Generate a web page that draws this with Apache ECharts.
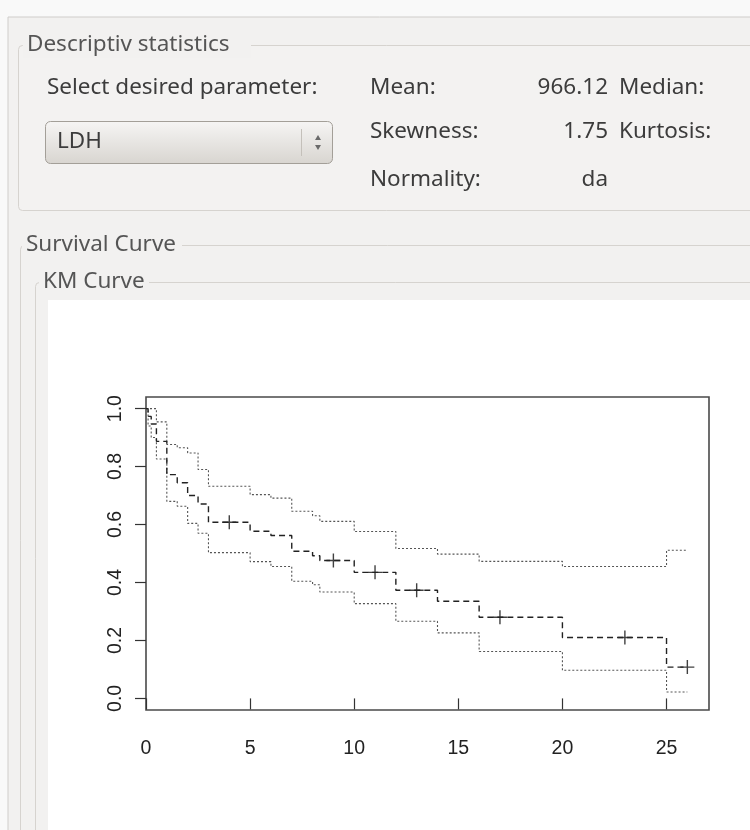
<!DOCTYPE html>
<html><head><meta charset="utf-8">
<script src="https://cdn.jsdelivr.net/npm/echarts@6/dist/echarts.min.js"></script>
<style>html,body{margin:0;padding:0;background:#f9f9f9}#c{width:750px;height:830px}</style>
</head><body><div id="c"></div>
<script>
// ---- data ----
const times    = [0, 0.1, 0.25, 0.5, 1, 1.5, 2, 2.5, 3, 5, 6, 7, 8, 8.35, 10, 12, 14, 16, 20, 25, 26];
const survival = [1.0, 0.973, 0.947, 0.887, 0.772, 0.744, 0.700, 0.671, 0.608, 0.577, 0.562, 0.508, 0.492, 0.476, 0.435, 0.373, 0.335, 0.280, 0.210, 0.108, 0.108];
const upperCI  = [1.0, 1.0, 1.0, 0.954, 0.876, 0.865, 0.847, 0.790, 0.732, 0.703, 0.691, 0.646, 0.630, 0.611, 0.576, 0.517, 0.498, 0.473, 0.455, 0.511, 0.511];
const lowerCI  = [1.0, 0.940, 0.900, 0.826, 0.680, 0.663, 0.604, 0.570, 0.503, 0.472, 0.455, 0.404, 0.392, 0.367, 0.327, 0.266, 0.226, 0.162, 0.097, 0.022, 0.022];
const censorTimes = [4, 9, 11, 13, 17, 23, 26];
const censorSurv  = [0.608, 0.476, 0.435, 0.373, 0.280, 0.210, 0.108];
const xTicks = [0, 5, 10, 15, 20, 25];
const yTicks = [0, 0.2, 0.4, 0.6, 0.8, 1.0];
const stats = [
  ['Mean:', '966.12', 'Median:'],
  ['Skewness:', '1.75', 'Kurtosis:'],
  ['Normality:', 'da', '']
];

const pair = (xs, ys) => xs.map((x, i) => [x, ys[i]]);
const FONT = '"Noto Sans", "DejaVu Sans", sans-serif';
const TXT = '#3c3c3c';
const BG = '#f2f1f0';
const FS = 22.5;

function txt(text, x, y, size, align, color) {
  return { type: 'text', z: 5, silent: true,
    style: { text, x, y, font: size + 'px ' + FONT, fill: color || TXT, align: align || 'left', verticalAlign: 'middle' } };
}

const graphic = [
  { type: 'rect', z: -10, silent: true, shape: { x: 8, y: 17, width: 760, height: 830 }, style: { fill: BG, stroke: '#cfcdca', lineWidth: 1 } },
  // group 1
  { type: 'rect', z: -9, silent: true, shape: { x: 18.5, y: 45.5, width: 760, height: 165, r: 4 }, style: { fill: '#f3f2f1', stroke: '#d6d3cf', lineWidth: 1 } },
  { type: 'rect', z: -8, silent: true, shape: { x: 23, y: 32, width: 228, height: 26 }, style: { fill: BG } },
  txt('Descriptiv statistics', 27, 45, FS, 'left', '#555'),
  // group 2
  { type: 'rect', z: -9, silent: true, shape: { x: 20.5, y: 245.5, width: 760, height: 640, r: 4 }, style: { fill: BG, stroke: '#d6d3cf', lineWidth: 1 } },
  { type: 'rect', z: -8, silent: true, shape: { x: 22, y: 232, width: 160, height: 26 }, style: { fill: BG } },
  txt('Survival Curve', 26, 245, FS, 'left', '#555'),
  // group 3
  { type: 'rect', z: -9, silent: true, shape: { x: 35.5, y: 282.5, width: 760, height: 600, r: 4 }, style: { fill: BG, stroke: '#d6d3cf', lineWidth: 1 } },
  { type: 'rect', z: -8, silent: true, shape: { x: 39, y: 269, width: 110, height: 26 }, style: { fill: BG } },
  txt('KM Curve', 43, 282, FS, 'left', '#555'),
  // plot white area
  { type: 'rect', z: -7, silent: true, shape: { x: 48, y: 300, width: 702, height: 530 }, style: { fill: '#ffffff' } },
  // labels
  txt('Select desired parameter:', 47, 88, FS),
  // combobox
  { type: 'rect', z: 1, silent: true, shape: { x: 45.5, y: 121.5, width: 287, height: 42, r: 5 },
    style: { stroke: '#a39f98', lineWidth: 1,
      fill: { type: 'linear', x: 0, y: 0, x2: 0, y2: 1, colorStops: [{ offset: 0, color: '#f6f5f4' }, { offset: 1, color: '#d8d5d0' }] } } },
  { type: 'line', z: 2, silent: true, shape: { x1: 301.5, y1: 129, x2: 301.5, y2: 156 }, style: { stroke: '#c4c0ba', lineWidth: 1 } },
  { type: 'polygon', z: 2, silent: true, shape: { points: [[315, 140], [321, 140], [318, 135]] }, style: { fill: '#6a6a6a' } },
  { type: 'polygon', z: 2, silent: true, shape: { points: [[315, 145], [321, 145], [318, 150]] }, style: { fill: '#6a6a6a' } },
  txt('LDH', 57, 142, FS)
];
const rowsY = [88, 132, 180];
stats.forEach((r, i) => {
  graphic.push(txt(r[0], 370, rowsY[i], FS));
  graphic.push(txt(r[1], 608, rowsY[i], FS, 'right'));
  if (r[2]) graphic.push(txt(r[2], 619, rowsY[i], FS));
});

const chart = echarts.init(document.getElementById('c'));
chart.setOption({
  animation: false,
  backgroundColor: 'transparent',
  graphic,
  grid: { left: 146, right: 41, top: 397, bottom: 120, show: true, borderColor: '#4a4a4a', borderWidth: 1.6, backgroundColor: 'transparent' },
  xAxis: {
    type: 'value', min: 0, max: 27.04,
    splitLine: { show: false },
    axisLine: { show: false },
    axisTick: { show: true, length: 11, lineStyle: { color: '#333', width: 1.2 }, customValues: xTicks },
    axisLabel: { show: true, margin: 29, color: '#222', fontSize: 19.5, fontFamily: '"Liberation Sans", Arial, sans-serif', customValues: xTicks, formatter: v => String(v) }
  },
  yAxis: {
    type: 'value', min: -0.04, max: 1.04,
    splitLine: { show: false },
    axisLine: { show: false },
    axisTick: { show: true, length: 11, lineStyle: { color: '#333', width: 1.2 }, customValues: yTicks },
    axisLabel: { show: true, margin: 20, rotate: 90, color: '#222', fontSize: 19.5, fontFamily: '"Liberation Sans", Arial, sans-serif', customValues: yTicks, formatter: v => v.toFixed(1) }
  },
  series: [
    { type: 'line', step: 'end', data: pair(times, upperCI), symbol: 'none', lineStyle: { color: '#555', width: 1.1, type: [2, 2] } },
    { type: 'line', step: 'end', data: pair(times, lowerCI), symbol: 'none', lineStyle: { color: '#555', width: 1.1, type: [2, 2] } },
    { type: 'line', step: 'end', data: pair(times, survival), symbol: 'none', lineStyle: { color: '#222', width: 1.4, type: [6, 4] } },
    { type: 'scatter', data: pair(censorTimes, censorSurv), symbol: 'path://M5,0L5,10M0,5L10,5', symbolSize: 14,
      itemStyle: { color: 'transparent', borderColor: '#111', borderWidth: 1.4 } }
  ]
});
</script></body></html>
